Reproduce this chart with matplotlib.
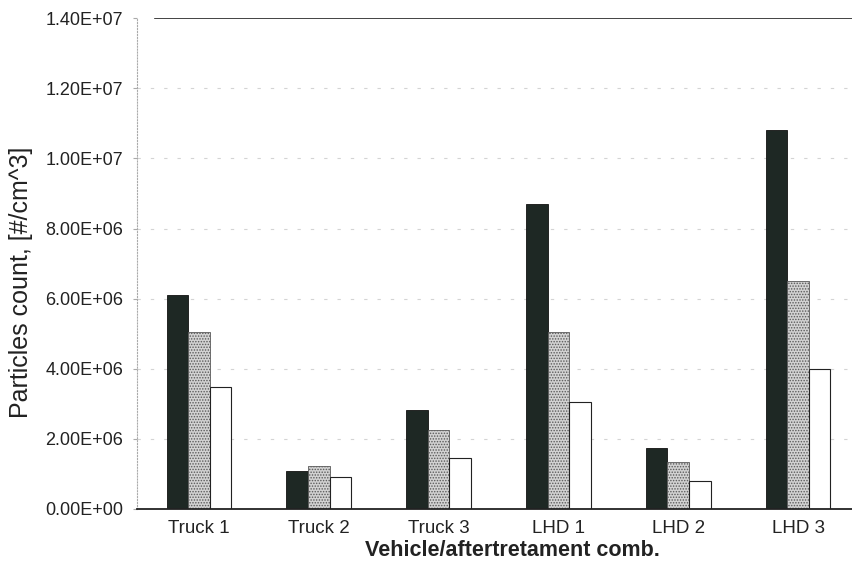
import matplotlib
matplotlib.use("Agg")
import matplotlib.pyplot as plt
import numpy as np

plt.rcParams['font.family'] = ['Liberation Sans', 'DejaVu Sans']
plt.rcParams['hatch.linewidth'] = 0.7

categories = ['Truck 1', 'Truck 2', 'Truck 3', 'LHD 1', 'LHD 2', 'LHD 3']
series_a = [6.10e6, 1.08e6, 2.82e6, 8.70e6, 1.73e6, 10.81e6]   # dark bars
series_b = [5.05e6, 1.23e6, 2.25e6, 5.05e6, 1.33e6, 6.50e6]    # stippled bars
series_c = [3.47e6, 0.91e6, 1.45e6, 3.05e6, 0.80e6, 3.99e6]    # white bars
yticks = [0, 2e6, 4e6, 6e6, 8e6, 10e6, 12e6, 14e6]
ytick_labels = ['0.00E+00', '2.00E+06', '4.00E+06', '6.00E+06',
                '8.00E+06', '1.00E+07', '1.20E+07', '1.40E+07']

fig = plt.figure(figsize=(8.53, 5.67), dpi=100)
ax = fig.add_axes([0.1606, 0.1023, 0.8394, 0.8657])

x = np.arange(len(categories))
w = 0.18
ax.bar(x - w, series_a, w, color='#1e2824', edgecolor='#111111', linewidth=0.6)
ax.bar(x, series_b, w, color='#d2d2d2', edgecolor='#5a5a5a', hatch='......', linewidth=0.6)
ax.bar(x + w, series_c, w, color='white', edgecolor='#222222', linewidth=0.8)

ax.set_xlim(-0.5175, 5.459)
ax.set_ylim(0, 1.4e7)
ax.set_yticks(yticks)
ax.set_yticklabels(ytick_labels, fontsize=13, color='#222222')
ax.set_xticks(x)
ax.set_xticklabels(categories, fontsize=13.5, color='#222222')

# faint, broken gridlines like the scan
for yv in yticks[1:-1]:
    ax.axhline(yv, color='#d4d4d4', linestyle=(0, (3, 9)), linewidth=0.8, zorder=0)
ax.axhline(1.4e7, xmin=0.025, color='#222222', linewidth=1.2)

for s in ['top', 'right']:
    ax.spines[s].set_visible(False)
ax.spines['left'].set_color('#aaaaaa')
ax.spines['left'].set_linestyle(':')
ax.spines['bottom'].set_color('#222222')
ax.spines['bottom'].set_linewidth(1.3)
ax.tick_params(axis='y', length=3, color='#aaaaaa', pad=7)
ax.tick_params(axis='x', length=0, pad=8)

ax.set_ylabel('Particles count, [#/cm^3]', fontsize=18, color='#222222')
ax.yaxis.set_label_coords(-0.145, 0.462)
ax.set_xlabel('Vehicle/aftertretament comb.', fontsize=15.5, fontweight='bold',
              color='#222222')
ax.xaxis.set_label_coords(0.524, -0.064)

fig.savefig('out.png', dpi=100)
